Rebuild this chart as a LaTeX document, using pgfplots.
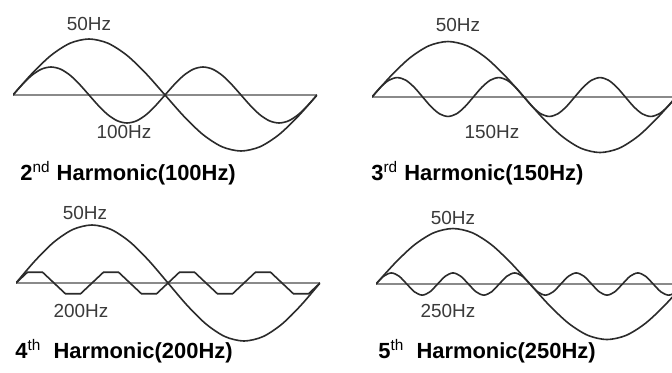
\documentclass[border=0pt]{standalone}
\usepackage{fontspec}
\setmainfont{Liberation Sans}
\usepackage{pgfplots}
\usepackage{pgfplotstable}
\pgfplotsset{compat=1.18}

\definecolor{curve}{HTML}{2B2B2B}
\definecolor{baseline}{HTML}{8A8A8A}
\definecolor{labeltext}{HTML}{3A3A3A}

\pgfplotsset{
  wave/.style={hide axis, anchor=south west, xmin=0, ymin=-1.25, ymax=1.25, clip=true},
  sig/.style={color=curve, line width=0.8bp, no markers},
  base/.style={color=baseline, line width=0.6bp, no markers},
}

% t in ms, amplitude relative to the 50 Hz wave
\pgfplotstableread{
t y
0 0
1.25 0.3827
2.5 0.7071
3.75 0.9239
5 1
6.25 0.9239
7.5 0.7071
8.75 0.3827
10 0
11.25 -0.3827
12.5 -0.7071
13.75 -0.9239
15 -1
16.25 -0.9239
17.5 -0.7071
18.75 -0.3827
20 0
}\fundamental

\pgfplotstableread{
t y
0 0
0.625 0.191
1.25 0.354
1.875 0.462
2.5 0.5
3.125 0.462
3.75 0.354
4.375 0.191
5 0
5.625 -0.191
6.25 -0.354
6.875 -0.462
7.5 -0.5
8.125 -0.462
8.75 -0.354
9.375 -0.191
10 0
10.625 0.191
11.25 0.354
11.875 0.462
12.5 0.5
13.125 0.462
13.75 0.354
14.375 0.191
15 0
15.625 -0.191
16.25 -0.354
16.875 -0.462
17.5 -0.5
18.125 -0.462
18.75 -0.354
19.375 -0.191
20 0
}\secondh

\pgfplotstableread{
t y
0 0
0.556 0.175
1.111 0.303
1.667 0.35
2.222 0.303
2.778 0.175
3.333 0
3.889 -0.175
4.444 -0.303
5 -0.35
5.556 -0.303
6.111 -0.175
6.667 0
7.222 0.175
7.778 0.303
8.333 0.35
8.889 0.303
9.444 0.175
10 0
10.556 -0.175
11.111 -0.303
11.667 -0.35
12.222 -0.303
12.778 -0.175
13.333 0
13.889 0.175
14.444 0.303
15 0.35
15.556 0.303
16.111 0.175
16.667 0
17.222 -0.175
17.778 -0.303
18.333 -0.35
18.889 -0.303
19.444 -0.175
20 0
}\thirdh

\pgfplotstableread{
t y
0 0
0.75 0.185
1.75 0.185
3.25 -0.185
4.25 -0.185
5.75 0.185
6.75 0.185
8.25 -0.185
9.25 -0.185
10.75 0.185
11.75 0.185
13.25 -0.185
14.25 -0.185
15.75 0.185
16.75 0.185
18.25 -0.185
19.25 -0.185
20 0
}\fourthh

\pgfplotstableread{
t y
0 0
0.5 0.141
1 0.2
1.5 0.141
2 0
2.5 -0.141
3 -0.2
3.5 -0.141
4 0
4.5 0.141
5 0.2
5.5 0.141
6 0
6.5 -0.141
7 -0.2
7.5 -0.141
8 0
8.5 0.141
9 0.2
9.5 0.141
10 0
10.5 -0.141
11 -0.2
11.5 -0.141
12 0
12.5 0.141
13 0.2
13.5 0.141
14 0
14.5 -0.141
15 -0.2
15.5 -0.141
16 0
16.5 0.141
17 0.2
17.5 0.141
18 0
18.5 -0.141
19 -0.2
19.5 -0.141
20 0
}\fifthh

\begin{document}
\begin{tikzpicture}[x=0.5bp, y=0.5bp]
\useasboundingbox (0,0) rectangle (672,372);
\fill[white] (0,0) rectangle (672,372);

% 2nd harmonic
\begin{axis}[wave, at={(6.5bp,103.5bp)}, x=7.6bp, y=28bp, xmax=20]
  \addplot[base] coordinates {(0,0) (20,0)};
  \addplot[sig, smooth] table {\fundamental};
  \addplot[sig, smooth] table {\secondh};
\end{axis}

% 3rd harmonic
\begin{axis}[wave, at={(186bp,102.8bp)}, x=7.6bp, y=27.75bp, xmax=19.74]
  \addplot[base] coordinates {(0,0) (19.74,0)};
  \addplot[sig, smooth] table {\fundamental};
  \addplot[sig, smooth] table {\thirdh};
\end{axis}

% 4th harmonic
\begin{axis}[wave, at={(8bp,8.25bp)}, x=7.6bp, y=29bp, xmax=20]
  \addplot[base] coordinates {(0,0) (20,0)};
  \addplot[sig, smooth] table {\fundamental};
  \addplot[sig] table {\fourthh};
\end{axis}

% 5th harmonic
\begin{axis}[wave, at={(188bp,9.3bp)}, x=7.7bp, y=27.75bp, xmax=19.22]
  \addplot[base] coordinates {(0,0) (19.22,0)};
  \addplot[sig, smooth] table {\fundamental};
  \addplot[sig, smooth] table {\fifthh};
\end{axis}

\tikzset{lab/.style={inner sep=0pt, text=labeltext, font=\fontsize{9.5}{11}\selectfont},
         ttl/.style={inner sep=0pt, anchor=base west, font=\fontsize{11}{13}\selectfont\bfseries}}

\node[lab] at (89,348) {50Hz};
\node[lab] at (124,240) {100Hz};
\node[ttl] at (20,192) {2\textsuperscript{\mdseries nd} Harmonic(100Hz)};

\node[lab] at (458,347) {50Hz};
\node[lab] at (492,240) {150Hz};
\node[ttl] at (371,192) {3\textsuperscript{\mdseries rd} Harmonic(150Hz)};

\node[lab] at (85,159) {50Hz};
\node[lab] at (81,61) {200Hz};
\node[ttl] at (15,14) {4\textsuperscript{\mdseries th}\ \ Harmonic(200Hz)};

\node[lab] at (453,154) {50Hz};
\node[lab] at (448,61) {250Hz};
\node[ttl] at (378,14) {5\textsuperscript{\mdseries th}\ \ Harmonic(250Hz)};
\end{tikzpicture}
\end{document}
